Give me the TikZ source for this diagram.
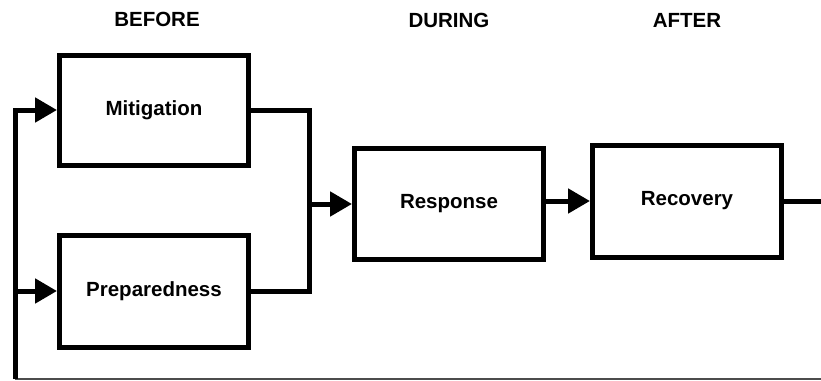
\documentclass[tikz,border=0pt]{standalone}
\usepackage{fontspec}
\setmainfont{Liberation Sans}
\usetikzlibrary{positioning,arrows.meta}

\begin{document}
\begin{tikzpicture}[
		x=1pt, y=-1pt,
		phase/.style={
		  draw,
		  line width=5pt,
		  minimum width=189pt,
		  minimum height=111pt,
		  font=\bfseries\fontsize{20.5}{24}\selectfont
		  },
		head/.style={
		  font=\bfseries\fontsize{20.5}{24}\selectfont
		  },
		flow/.style={
		  line width=5pt
		  },
		back/.style={
		  draw=black!70,
		  line width=1.5pt
		  },
		>={Triangle[length=22pt,width=24pt]}
		]
		\useasboundingbox (0,0) rectangle (821,380);
		% phase headings
		\node[head] (before) at (157,19) {BEFORE};
		\node[head] (during) at (449,20) {DURING};
		\node[head] (after) at (687,20) {AFTER};
		% the four phases
		\node[phase, minimum height=110pt] (mit) at (154,110) {Mitigation};
		\node[phase, minimum height=112pt] (prep) at (154,291) {Preparedness};
		\node[phase] (resp) at (449,204) {Response};
		\node[phase, minimum height=112pt] (rec) at (687,201) {Recovery};
		\coordinate (fbtop) at (15,110);
		\coordinate (fbbot) at (15,379);
		\coordinate (fbend) at (821,379);
		\coordinate (jbot) at (309,291);
		\coordinate (out) at (821,201);
		% feedback into before
		\draw[back] (fbbot) -- (fbend);
		\draw[flow,->] (fbbot) -- (fbtop) -- (mit.west);
		\draw[flow,->] (prep.west -| fbbot) -- (prep.west);
		% before into during
		\draw[flow] (mit.east) -| (jbot) -- (prep.east);
		\draw[flow,->] (resp.west -| jbot) -- (resp.west);
		% during into after
		\draw[flow,->] (rec.west -| resp.east) -- (rec.west);
		\draw[flow] (rec.east) -- (out);
	\end{tikzpicture}
\end{document}
